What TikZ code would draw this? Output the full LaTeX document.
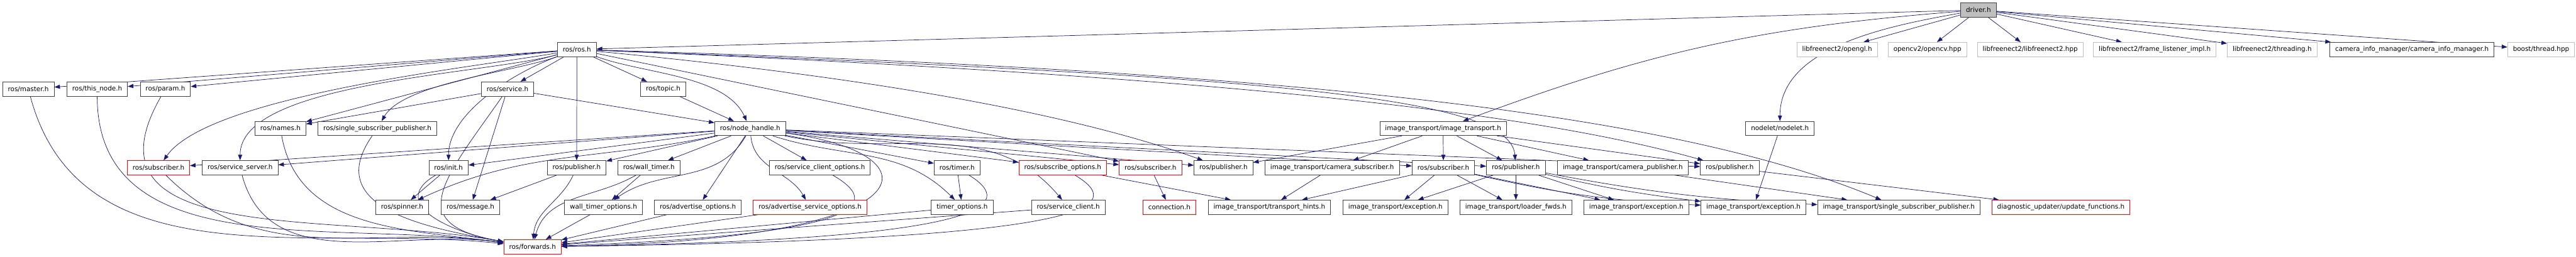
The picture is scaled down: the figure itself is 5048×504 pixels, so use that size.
\documentclass[tikz,border=0pt]{standalone}
\usepackage{fontspec}
\setmainfont{DejaVu Sans}
\usetikzlibrary{arrows.meta,backgrounds}
\definecolor{edgeblue}{RGB}{25,25,112}
\definecolor{extgray}{RGB}{191,191,191}

\begin{document}
\begin{tikzpicture}[
  x=1pt, y=1pt,
  font=\fontsize{12.8}{15}\selectfont,
  hdr/.style={draw=black!75, line width=1pt, fill=white, minimum height=28pt, inner xsep=10.5pt, inner ysep=0pt},
  ext/.style={hdr, draw=extgray},
  miss/.style={hdr, draw=red},
  root/.style={hdr, fill=extgray},
  arr/.style={-{Triangle[length=11pt,width=8pt]}, color=edgeblue, line width=0.9pt}
]
\useasboundingbox (0,0) rectangle (5048,-504);

\node[root] (drv) at (3877,-19.5) {driver.h};

\node[hdr] (ros) at (1130.5,-97) {ros/ros.h};
\node[ext] (glh) at (3600,-97) {libfreenect2/opengl.h};
\node[ext] (cvh) at (3777,-97) {opencv2/opencv.hpp};
\node[ext] (lf2) at (3978.5,-97) {libfreenect2/libfreenect2.hpp};
\node[ext] (fli) at (4222.5,-97) {libfreenect2/frame\_listener\_impl.h};
\node[ext] (thr) at (4452.5,-97) {libfreenect2/threading.h};
\node[hdr] (cim) at (4726.5,-97) {camera\_info\_manager/camera\_info\_manager.h};
\node[ext] (bth) at (4979.5,-97) {boost/thread.hpp};

\node[hdr] (master) at (55.5,-174.5) {ros/master.h};
\node[hdr] (thisnode) at (190.5,-174.5) {ros/this\_node.h};
\node[hdr] (param) at (324,-174.5) {ros/param.h};
\node[hdr] (service) at (994.5,-174.5) {ros/service.h};
\node[hdr] (topic) at (1299.5,-174.5) {ros/topic.h};

\node[hdr] (names) at (549.5,-252) {ros/names.h};
\node[hdr] (ssp) at (739.5,-252) {ros/single\_subscriber\_publisher.h};
\node[hdr] (nh) at (1470,-252) {ros/node\_handle.h};
\node[hdr] (itimg) at (2828,-252) {image\_transport/image\_transport.h};
\node[hdr] (nodelet) at (3488,-252) {nodelet/nodelet.h};

\node[miss] (subA) at (310.5,-329) {ros/subscriber.h};
\node[hdr] (srvserver) at (470.5,-329) {ros/service\_server.h};
\node[hdr] (init) at (879,-329) {ros/init.h};
\node[hdr] (pubA) at (1130,-329) {ros/publisher.h};
\node[hdr] (walltimer) at (1271.5,-329) {ros/wall\_timer.h};
\node[hdr] (scopt) at (1606.5,-329) {ros/service\_client\_options.h};
\node[hdr] (timer) at (1875.5,-329) {ros/timer.h};
\node[miss] (subopt) at (2082.5,-329) {ros/subscribe\_options.h};
\node[miss] (subB) at (2254.5,-329) {ros/subscriber.h};
\node[hdr] (pubB) at (2397.5,-329) {ros/publisher.h};
\node[hdr] (itcamsub) at (2610.5,-329) {image\_transport/camera\_subscriber.h};
\node[hdr] (subC) at (2828.5,-329) {ros/subscriber.h};
\node[hdr] (pubC) at (2970.5,-329) {ros/publisher.h};
\node[hdr] (itcampub) at (3180,-329) {image\_transport/camera\_publisher.h};
\node[hdr] (pubD) at (3389.5,-329) {ros/publisher.h};

\node[hdr] (spinner) at (788,-406.5) {ros/spinner.h};
\node[hdr] (message) at (922,-406.5) {ros/message.h};
\node[hdr] (wto) at (1182.5,-406.5) {wall\_timer\_options.h};
\node[hdr] (advopt) at (1367.5,-406.5) {ros/advertise\_options.h};
\node[miss] (advsrvopt) at (1587.5,-406.5) {ros/advertise\_service\_options.h};
\node[hdr] (timeropt) at (1885.5,-406.5) {timer\_options.h};
\node[hdr] (srvclient) at (2093.5,-406.5) {ros/service\_client.h};
\node[miss] (conn) at (2291.5,-406.5) {connection.h};
\node[hdr] (itth) at (2487.5,-406.5) {image\_transport/transport\_hints.h};
\node[hdr] (itexA) at (2734.5,-406.5) {image\_transport/exception.h};
\node[hdr] (itloader) at (2970.5,-406.5) {image\_transport/loader\_fwds.h};
\node[hdr] (itexB) at (3206.5,-406.5) {image\_transport/exception.h};
\node[hdr] (itexC) at (3436,-406.5) {image\_transport/exception.h};
\node[hdr] (itssp) at (3721,-406.5) {image\_transport/single\_subscriber\_publisher.h};
\node[miss] (upd) at (4038.5,-406.5) {diagnostic\_updater/update\_functions.h};

\node[miss] (fwd) at (1043.5,-484) {ros/forwards.h};

\begin{pgfonlayer}{background}
\draw[arr] (drv) -- (ros);
\draw[arr] (drv) to[bend right=8] (itimg);
\draw[arr] (drv) to[out=190,in=90,looseness=0.9] (nodelet);
\draw[arr] (drv) -- (glh);
\draw[arr] (drv) -- (cvh);
\draw[arr] (drv) -- (lf2);
\draw[arr] (drv) -- (fli);
\draw[arr] (drv) -- (thr);
\draw[arr] (drv) -- (cim);
\draw[arr] (drv) -- (bth);

\draw[arr] (ros) -- (master);
\draw[arr] (ros) -- (thisnode);
\draw[arr] (ros) -- (param);
\draw[arr] (ros) -- (service);
\draw[arr] (ros) -- (topic);
\draw[arr] (ros) -- (names);
\draw[arr] (ros) -- (pubA);
\draw[arr] (ros) to[out=190,in=55,looseness=0.5] (subA);
\draw[arr] (ros) to[out=195,in=90,looseness=0.6] (srvserver);
\draw[arr] (ros) to[out=200,in=60,looseness=0.6] (ssp);
\draw[arr] (ros) to[out=200,in=90,looseness=0.8] (init);
\draw[arr] (ros) to[out=-20,in=115,looseness=0.8] (nh);
\draw[arr] (ros) -- (subB);
\draw[arr] (ros) .. controls (1800,-160) and (2150,-240) .. (pubB);
\draw[arr] (ros) .. controls (2500,-150) and (2960,-190) .. (pubC);
\draw[arr] (ros) .. controls (2400,-150) and (3000,-220) .. (pubD);
\draw[arr] (ros) .. controls (2600,-140) and (3300,-230) .. (itssp);

\draw[arr] (service) -- (names);
\draw[arr] (service) -- (nh);
\draw[arr] (service) -- (message);
\draw[arr] (service) to[out=-125,in=170,looseness=1.8] (fwd);
\draw[arr] (topic) -- (nh);

\draw[arr] (nh) -- (subA);
\draw[arr] (nh) -- (srvserver);
\draw[arr] (nh) -- (init);
\draw[arr] (nh) to[out=-168,in=25] (spinner);
\draw[arr] (nh) -- (pubA);
\draw[arr] (nh) -- (walltimer);
\draw[arr] (nh) to[out=-120,in=35] (wto);
\draw[arr] (nh) -- (advopt);
\draw[arr] (nh) to[out=-85,in=120] (advsrvopt);
\draw[arr] (nh) -- (scopt);
\draw[arr] (nh) -- (timer);
\draw[arr] (nh) to[out=-18,in=135] (timeropt);
\draw[arr] (nh) to[out=-12,in=130] (srvclient);
\draw[arr] (nh) -- (subopt);
\draw[arr] (nh) -- (subB);
\draw[arr] (nh) -- (pubB);
\draw[arr] (nh) -- (subC);
\draw[arr] (nh) -- (pubC);
\draw[arr] (nh) -- (pubD);
\draw[arr] (nh) .. controls (1840,-300) and (1840,-470) .. (fwd);

\draw[arr] (master) to[out=-75,in=174] (fwd);
\draw[arr] (thisnode) to[out=-90,in=172] (fwd);
\draw[arr] (param) to[out=-120,in=170,looseness=1.2] (fwd);
\draw[arr] (subA) to[out=-45,in=172] (fwd);
\draw[arr] (srvserver) to[out=-75,in=172] (fwd);
\draw[arr] (names) to[out=-80,in=172] (fwd);
\draw[arr] (ssp) to[out=-125,in=170,looseness=1.3] (fwd);
\draw[arr] (init) -- (spinner);
\draw[arr] (init) to[out=210,in=170,looseness=1.5] (fwd);
\draw[arr] (pubA) -- (message);
\draw[arr] (pubA) to[out=-115,in=85] (fwd);
\draw[arr] (walltimer) -- (wto);
\draw[arr] (walltimer) to[out=-150,in=75] (fwd);
\draw[arr] (wto) -- (fwd);
\draw[arr] (advopt) -- (fwd);
\draw[arr] (advsrvopt) -- (fwd);
\draw[arr] (scopt) .. controls (1730,-400) and (1700,-460) .. (fwd);
\draw[arr] (timer) -- (timeropt);
\draw[arr] (timer) .. controls (1990,-400) and (1960,-470) .. (fwd);
\draw[arr] (timeropt) -- (fwd);
\draw[arr] (srvclient) -- (fwd);
\draw[arr] (subopt) .. controls (2200,-400) and (2190,-470) .. (fwd);
\draw[arr] (subopt) -- (itth);
\draw[arr] (subB) -- (conn);

\draw[arr] (itimg) -- (pubB);
\draw[arr] (itimg) -- (itcamsub);
\draw[arr] (itimg) -- (subC);
\draw[arr] (itimg) -- (pubC);
\draw[arr] (itimg) -- (itcampub);
\draw[arr] (itimg) -- (pubD);
\draw[arr] (itcamsub) -- (itth);
\draw[arr] (subC) -- (itth);
\draw[arr] (subC) -- (itexA);
\draw[arr] (subC) -- (itloader);
\draw[arr] (subC) -- (itexB);
\draw[arr] (subC) to[bend right=5] (itexC);
\draw[arr] (pubC) -- (itexA);
\draw[arr] (pubC) -- (itloader);
\draw[arr] (pubC) -- (itexB);
\draw[arr] (pubC) to[bend right=3] (itexC);
\draw[arr] (pubC) to[bend right=4] (itssp);
\draw[arr] (itcampub) -- (itssp);
\draw[arr] (pubD) -- (upd);
\draw[arr] (nodelet) -- (itexC);
\end{pgfonlayer}
\end{tikzpicture}
\end{document}
